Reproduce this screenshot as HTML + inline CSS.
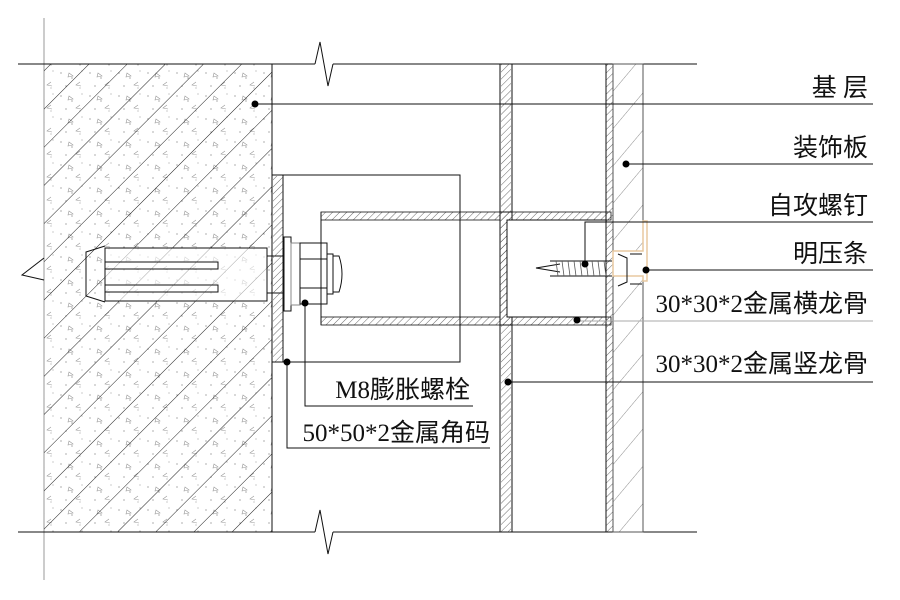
<!DOCTYPE html>
<html><head><meta charset="utf-8"><style>
html,body{margin:0;padding:0;background:#fff}
svg{display:block}
text{font-family:"Liberation Serif","Noto Sans CJK SC",serif;font-size:25px;fill:#111}
</style></head><body>
<svg width="900" height="600" viewBox="0 0 900 600" xmlns="http://www.w3.org/2000/svg">
<defs>
<pattern id="diag" width="27" height="27" patternUnits="userSpaceOnUse" patternTransform="rotate(-45)">
<line x1="0" y1="0" x2="27" y2="0" stroke="#222" stroke-width="1"/></pattern>
<pattern id="dots" width="29" height="23" patternUnits="userSpaceOnUse">
<circle cx="3" cy="4" r="0.6" fill="#777"/><circle cx="14" cy="9" r="0.6" fill="#777"/><circle cx="8" cy="17" r="0.6" fill="#777"/><circle cx="24" cy="2" r="0.5" fill="#777"/><circle cx="22" cy="19" r="0.5" fill="#777"/>
<path d="M11 4 l4 3 l-5 1 z" fill="none" stroke="#999" stroke-width="0.6"/>
<path d="M22 13 l-4 3 l5 1" fill="none" stroke="#999" stroke-width="0.6"/></pattern>
<pattern id="hat" width="5" height="5" patternUnits="userSpaceOnUse" patternTransform="rotate(-45)">
<line x1="0" y1="0" x2="5" y2="0" stroke="#444" stroke-width="0.8"/></pattern>
<pattern id="wide" width="24" height="24" patternUnits="userSpaceOnUse" patternTransform="rotate(-50)">
<line x1="0" y1="0" x2="24" y2="0" stroke="#666" stroke-width="0.8"/></pattern>
</defs>
<line x1="44" y1="18" x2="44" y2="580" stroke="#999"/>
<line x1="18" y1="64" x2="315" y2="64" stroke="#111"/>
<polyline points="315,64 320,42 328,86 333,64" fill="none" stroke="#111"/>
<line x1="333" y1="64" x2="697" y2="64" stroke="#111"/>
<line x1="18" y1="532" x2="315" y2="532" stroke="#111"/>
<polyline points="315,532 320,510 328,554 333,532" fill="none" stroke="#111"/>
<line x1="333" y1="532" x2="697" y2="532" stroke="#111"/>
<rect x="44" y="64" width="228" height="468" fill="url(#dots)"/>
<rect x="44" y="64" width="228" height="468" fill="url(#diag)"/>
<line x1="272" y1="64" x2="272" y2="532" stroke="#111"/>
<polyline points="44,258 22,275 44,280" fill="none" stroke="#111"/>
<rect x="105" y="248" width="162" height="53" fill="#fff" fill-opacity="0.6" stroke="#111"/>
<polyline points="105,246 86,252 86,296 105,302" fill="none" stroke="#111"/>
<rect x="105" y="262" width="113" height="7" fill="none" stroke="#111"/>
<rect x="105" y="285" width="113" height="7" fill="none" stroke="#111"/>
<line x1="267" y1="256" x2="284" y2="256" stroke="#111"/>
<line x1="267" y1="293" x2="284" y2="293" stroke="#111"/>
<polyline points="272,175 460,175 460,362 272,362" fill="none" stroke="#111"/>
<line x1="283" y1="175" x2="283" y2="362" stroke="#111"/>
<rect x="273" y="176" width="10" height="186" fill="url(#hat)"/>
<rect x="284" y="237" width="7" height="74" fill="#fff" stroke="#111"/>
<rect x="291" y="243" width="9" height="62" fill="#fff" stroke="#888"/>
<rect x="300" y="243" width="27" height="61" fill="#fff" stroke="#111"/>
<line x1="300" y1="259" x2="327" y2="259" stroke="#111"/>
<line x1="300" y1="288" x2="327" y2="288" stroke="#111"/>
<rect x="327" y="254" width="6" height="40" fill="#fff" stroke="#111"/>
<path d="M333 256 h6 q6 18 0 36 h-6 z" fill="#fff" stroke="#111"/>
<rect x="321" y="212" width="290" height="8" fill="url(#hat)" stroke="#111" stroke-width="0.8"/>
<rect x="321" y="317" width="290" height="8" fill="url(#hat)" stroke="#111" stroke-width="0.8"/>
<line x1="321" y1="212" x2="321" y2="325" stroke="#111"/>
<rect x="500" y="64" width="12" height="468" fill="#fff" stroke="#111"/>
<rect x="501" y="64" width="10" height="468" fill="url(#hat)"/>
<rect x="606" y="64" width="7" height="468" fill="url(#hat)" stroke="#111"/>
<rect x="512" y="220" width="94" height="97" fill="#fff"/>
<rect x="500" y="212" width="12" height="113" fill="url(#hat)" stroke="#111"/>
<rect x="507" y="220" width="99" height="97" fill="#fff" stroke="#111"/>
<rect x="613" y="64" width="30" height="468" fill="url(#wide)" stroke="#555"/>
<polyline points="560,264 536,268 560,272" fill="none" stroke="#111"/>
<line x1="550" y1="261" x2="612" y2="261" stroke="#111"/>
<line x1="550" y1="276" x2="612" y2="276" stroke="#111"/>
<g stroke="#555" stroke-width="0.8">
<line x1="556" y1="261" x2="558" y2="276"/><line x1="562" y1="261" x2="564" y2="276"/><line x1="568" y1="261" x2="570" y2="276"/><line x1="574" y1="261" x2="576" y2="276"/><line x1="580" y1="261" x2="582" y2="276"/><line x1="586" y1="261" x2="588" y2="276"/><line x1="592" y1="261" x2="594" y2="276"/><line x1="598" y1="261" x2="600" y2="276"/><line x1="604" y1="261" x2="606" y2="276"/></g>
<path d="M613 251 h30 v-30 h4 v60 h-4 v-5 h-30 z" fill="#fff" stroke="#e8c9a0" stroke-width="1.5"/>
<polyline points="618,254 627,258 627,282 618,286" fill="none" stroke="#111"/>
<line x1="630" y1="254" x2="642" y2="254" stroke="#111"/>
<line x1="630" y1="284" x2="642" y2="284" stroke="#111"/>
<g stroke="#111" fill="none">
<line x1="255" y1="104" x2="873" y2="104"/>
<line x1="626" y1="164" x2="873" y2="164"/>
<polyline points="585,264 585,222 873,222"/>
<line x1="646" y1="270" x2="873" y2="270"/>
<line x1="575" y1="321" x2="873" y2="321" stroke="#aaa"/>
<line x1="508" y1="382" x2="873" y2="382"/>
<polyline points="305,303 305,406 473,406"/>
<polyline points="287,362 287,448 490,448"/>
</g>
<g fill="#000">
<circle cx="255" cy="104" r="3.5"/><circle cx="626" cy="164" r="3.5"/><circle cx="585" cy="264" r="3.5"/>
<circle cx="646" cy="270" r="3.5"/><circle cx="577" cy="320" r="3.5"/><circle cx="508" cy="382" r="3.5"/>
<circle cx="305" cy="303" r="3.5"/><circle cx="287" cy="362" r="3.5"/></g>
<g text-anchor="end">
<text x="868" y="96">基 层</text>
<text x="868" y="156">装饰板</text>
<text x="868" y="214">自攻螺钉</text>
<text x="868" y="262">明压条</text>
<text x="868" y="312">30*30*2金属横龙骨</text>
<text x="868" y="372">30*30*2金属竖龙骨</text>
<text x="470" y="398">M8膨胀螺栓</text>
<text x="490" y="441">50*50*2金属角码</text>
</g>
</svg>
</body></html>
